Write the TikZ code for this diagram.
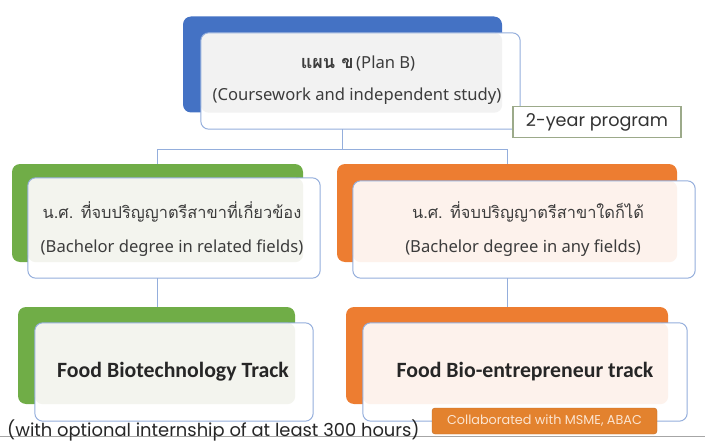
\documentclass[tikz,border=0pt]{standalone}
\usepackage{fontspec}
\setmainfont{Noto Sans}
\newfontfamily\thaifont[Script=Thai]{Loma}
\newfontfamily\calfont{Carlito}
\newfontfamily\popfont{Poppins}
\definecolor{cblue}{HTML}{4472C4}
\definecolor{cgreen}{HTML}{70AD47}
\definecolor{corange}{HTML}{ED7D31}
\definecolor{cline}{HTML}{94AEDC}
\definecolor{tgrey}{HTML}{F2F2F2}
\definecolor{tgreen}{HTML}{F3F4EE}
\definecolor{torange}{HTML}{FDF2EC}
\definecolor{ctext}{HTML}{3C3C3C}
\definecolor{cbadge}{HTML}{E3822E}
\definecolor{cbadgetext}{HTML}{FBE4D0}
\definecolor{cprog}{HTML}{9CAA8A}
\begin{document}
\begin{tikzpicture}[x=1pt,y=-1pt,
  backbox/.style={rounded corners=8pt, inner sep=0pt, draw=none},
  frontbox/.style={rounded corners=8pt, inner sep=0pt, fill=white, draw=none},
  frontline/.style={rounded corners=8pt, draw=cline, line width=1pt},
  conn/.style={draw=cline, line width=1pt},
  entext/.style={text=ctext, font=\fontsize{16.6}{18}\selectfont, inner sep=0pt},
  thtext/.style={text=ctext, font=\thaifont\fontsize{16.4}{18}\selectfont, inner sep=0pt},
  tracktext/.style={text=black!85, font=\calfont\bfseries\fontsize{21.8}{24}\selectfont, inner sep=0pt}
]
\useasboundingbox (0,0) rectangle (705,444);
% ---------- top ----------
\node[backbox, fill=cblue, minimum width=319pt, minimum height=96pt] (tb) at (342.5,64.5) {};
\node[frontbox, minimum width=319pt, minimum height=96pt] (tf) at (360.5,81) {};
\fill[tgrey, rounded corners=8pt] (tf.north west) rectangle (tb.south east);
\draw[frontline] (tf.north west) rectangle (tf.south east);
\node[inner sep=0pt, text=ctext] (t1) at (358,64) {{\thaifont\bfseries\fontsize{18}{20}\selectfont แผน ข}\ {\fontsize{16.6}{18}\selectfont (Plan B)}};
\node[entext] (t2) at (357,96) {(Coursework and independent study)};
% 2-year program
\node[draw=cprog, line width=1.4pt, fill=white, minimum width=168pt, minimum height=31pt, inner sep=0pt,
      font=\popfont\fontsize{17.6}{19}\selectfont, text=black!80] (prog) at (597,122) {2-year program};
% ---------- middle row ----------
\node[backbox, fill=cgreen, minimum width=291pt, minimum height=98pt] (gb) at (157.5,213) {};
\node[frontbox, minimum width=292pt, minimum height=100pt] (gf) at (174,228) {};
\fill[tgreen, rounded corners=8pt] (gf.north west) rectangle (gb.south east);
\draw[frontline] (gf.north west) rectangle (gf.south east);
\node[thtext] (g1) at (172,212) {น.ศ. ที่จบปริญญาตรีสาขาที่เกี่ยวข้อง};
\node[entext] (g2) at (172,248) {(Bachelor degree in related fields)};

\node[backbox, fill=corange, minimum width=340pt, minimum height=98pt] (ob) at (507,213) {};
\node[frontbox, minimum width=342pt, minimum height=97pt] (of) at (524,229.5) {};
\fill[torange, rounded corners=8pt] (of.north west) rectangle (ob.south east);
\draw[frontline] (of.north west) rectangle (of.south east);
\node[thtext] (o1) at (528,212) {น.ศ. ที่จบปริญญาตรีสาขาใดก็ได้};
\node[entext] (o2) at (523,248) {(Bachelor degree in any fields)};
% ---------- bottom row ----------
\node[backbox, fill=cgreen, minimum width=277pt, minimum height=97pt] (gb3) at (156.5,355.5) {};
\node[frontbox, minimum width=278pt, minimum height=98pt] (gf3) at (174,372) {};
\fill[tgreen, rounded corners=8pt] (gf3.north west) rectangle (gb3.south east);
\draw[frontline] (gf3.north west) rectangle (gf3.south east);
\node[tracktext] (gt) at (173,372) {Food Biotechnology Track};

\node[backbox, fill=corange, minimum width=322pt, minimum height=97pt] (ob3) at (507,355.5) {};
\node[frontbox, minimum width=324pt, minimum height=98pt] (of3) at (525,372) {};
\fill[torange, rounded corners=8pt] (of3.north west) rectangle (ob3.south east);
\draw[frontline] (of3.north west) rectangle (of3.south east);
\node[tracktext] (ot) at (525,372) {Food Bio-entrepreneur track};
% badge
\node[fill=cbadge, draw=cbadge!85!black, line width=0.4pt, rounded corners=3pt, minimum width=225pt, minimum height=26pt, inner sep=0pt,
      text=cbadgetext, font=\popfont\fontsize{12.8}{14}\selectfont] (badge) at (544.5,421) {Collaborated with MSME, ABAC};
% ---------- connectors ----------
\draw[conn] (tb.south |- tf.south) -- ++(0,20) coordinate (hj) -| (gb.north);
\draw[conn] (hj) -| (ob.north);
\draw[conn] (gb.south |- gf.south) -- (gb.south |- gb3.north);
\draw[conn] (ob.south |- of.south) -- (ob.south |- ob3.north);
% ---------- bottom note ----------
\coordinate (l1) at (0,436);
\coordinate (l2) at (705,436);
\draw[black!35, line width=0.6pt] (l1) -- (l2);
\node[anchor=base west, inner sep=0pt, text=black!85, font=\popfont\fontsize{17.9}{20}\selectfont] (note) at (7,436) {(with optional internship of at least 300 hours)};
\end{tikzpicture}
\end{document}
